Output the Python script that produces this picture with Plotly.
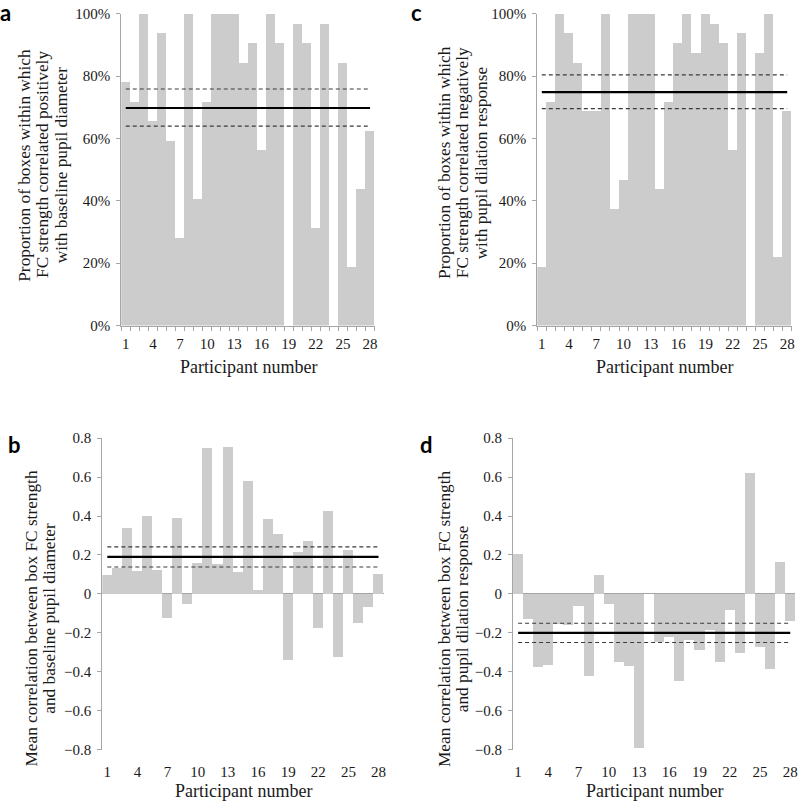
import plotly.graph_objects as go

participants = list(range(1, 29))
tick_participants = [1, 4, 7, 10, 13, 16, 19, 22, 25, 28]

# Panel a: proportion of boxes with positive FC ~ baseline pupil correlation (%)
a_values = [78.1, 71.9, 100, 65.6, 93.8, 59.4, 28.1, 100, 40.6, 71.9, 100, 100, 100, 84.4,
            90.6, 56.3, 100, 90.6, 0, 96.9, 90.6, 31.3, 96.9, 0, 84.4, 18.8, 43.8, 62.5]
a_mean = 69.8
a_ci_high = 75.9
a_ci_low = 64.0

# Panel c: proportion of boxes with negative FC ~ pupil dilation correlation (%)
c_values = [18.8, 71.9, 100, 93.8, 84.4, 68.8, 68.8, 100, 37.5, 46.9, 100, 100, 100, 43.8,
            71.9, 90.6, 100, 87.5, 100, 96.9, 90.6, 56.3, 93.8, 0, 87.5, 100, 21.9, 68.8]
c_mean = 74.9
c_ci_high = 80.4
c_ci_low = 69.6

# Panel b: mean correlation FC strength ~ baseline pupil diameter
b_values = [0.097, 0.134, 0.336, 0.118, 0.40, 0.123, -0.126, 0.39, -0.055, 0.156, 0.748, 0.153,
            0.754, 0.109, 0.581, 0.018, 0.385, 0.309, -0.34, 0.212, 0.272, -0.175, 0.427, -0.323,
            0.224, -0.151, -0.066, 0.103]
b_mean = 0.19
b_ci_high = 0.242
b_ci_low = 0.138

# Panel d: mean correlation FC strength ~ pupil dilation response
d_values = [0.205, -0.129, -0.375, -0.365, -0.155, -0.163, -0.062, -0.424, 0.097, -0.055, -0.353,
            -0.371, -0.793, 0, -0.25, -0.222, -0.449, -0.239, -0.292, -0.187, -0.353, -0.082,
            -0.304, 0.622, -0.276, -0.385, 0.161, -0.143]
d_mean = -0.2
d_ci_high = -0.151
d_ci_low = -0.25

pct_ticks = [0, 20, 40, 60, 80, 100]
pct_ticktext = ["0%", "20%", "40%", "60%", "80%", "100%"]
corr_ticks = [-0.8, -0.6, -0.4, -0.2, 0, 0.2, 0.4, 0.6, 0.8]
corr_ticktext = ["\u22120.8", "\u22120.6", "\u22120.4", "\u22120.2", "0", "0.2", "0.4", "0.6", "0.8"]

W, H = 800, 808
SERIF = "Liberation Serif"
TXT = "#1a1a1a"
BAR = "#cccccc"
AX = "#a6a6a6"


def px(x):
    return x / W


def py(y):
    return 1 - y / H


fig = go.Figure()

panels = [
    ("", a_values, a_mean, a_ci_high, a_ci_low),
    ("2", b_values, b_mean, b_ci_high, b_ci_low),
    ("3", c_values, c_mean, c_ci_high, c_ci_low),
    ("4", d_values, d_mean, d_ci_high, d_ci_low),
]

for suffix, vals, m, hi, lo in panels:
    xa, ya = "x" + suffix, "y" + suffix
    fig.add_trace(go.Bar(x=participants, y=vals, width=1, marker=dict(color=BAR, line=dict(width=0)),
                         xaxis=xa, yaxis=ya, showlegend=False))
    ends = [participants[0], participants[-1]]
    for v in (hi, lo):
        fig.add_trace(go.Scatter(x=ends, y=[v, v], mode="lines",
                                 line=dict(color="#3a3a3a", width=1.2, dash="4px,3px"),
                                 xaxis=xa, yaxis=ya, showlegend=False))
    fig.add_trace(go.Scatter(x=ends, y=[m, m], mode="lines", line=dict(color="#000000", width=2.2),
                             xaxis=xa, yaxis=ya, showlegend=False))

tickfont = dict(family=SERIF, size=15, color=TXT)

dom_a_x = [px(121.7), px(376)]
dom_c_x = [px(539.3), px(794.7)]
dom_top_y = [py(324), py(6)]
dom_b_x = [px(102.7), px(385)]
dom_d_x = [px(515), px(798.3)]
dom_bot_y = [py(756.5), py(438.9)]


def pct_x(dom, anchor):
    return dict(domain=dom, anchor=anchor, range=[0.5, 28.5], tickmode="array", tickvals=tick_participants,
                showline=True, linecolor=AX, linewidth=1, ticks="", showgrid=False, zeroline=False,
                tickfont=tickfont, ticklabelstandoff=4,
                minor=dict(tickmode="linear", tick0=0.5, dtick=1, ticks="outside", ticklen=4, tickcolor=AX,
                           showgrid=False))


def pct_y(dom, anchor):
    return dict(domain=dom, anchor=anchor, range=[0, 100], tickmode="array", tickvals=pct_ticks,
                ticktext=pct_ticktext,
                showline=True, linecolor=AX, linewidth=1, ticks="outside", ticklen=4, tickcolor=AX,
                showgrid=False, zeroline=False, tickfont=tickfont, ticklabelstandoff=3)


def corr_x(dom, anchor):
    return dict(domain=dom, anchor=anchor, range=[0.5, 28.5], tickmode="array", tickvals=tick_participants,
                showline=False, ticks="", showgrid=False, zeroline=False, tickfont=tickfont, ticklabelstandoff=11)


def corr_y(dom, anchor):
    return dict(domain=dom, anchor=anchor, range=[-0.8, 0.8], tickmode="array", tickvals=corr_ticks,
                ticktext=corr_ticktext, showline=True, linecolor=AX, linewidth=1, ticks="outside", ticklen=4,
                tickcolor=AX, showgrid=False, zeroline=True, zerolinecolor=AX, zerolinewidth=1,
                tickfont=tickfont, ticklabelstandoff=3)


fig.update_layout(
    width=W, height=H, autosize=False,
    margin=dict(l=0, r=0, t=0, b=0),
    paper_bgcolor="white", plot_bgcolor="white",
    bargap=0, showlegend=False,
    font=dict(family=SERIF, color=TXT),
    xaxis=pct_x(dom_a_x, "y"), yaxis=pct_y(dom_top_y, "x"),
    xaxis2=corr_x(dom_b_x, "y2"), yaxis2=corr_y(dom_bot_y, "x2"),
    xaxis3=pct_x(dom_c_x, "y3"), yaxis3=pct_y(dom_top_y, "x3"),
    xaxis4=corr_x(dom_d_x, "y4"), yaxis4=corr_y(dom_bot_y, "x4"),
)

ann = []
letter_font = dict(family="Lato", size=22, color="#000000")
for letter, x, y in [("a", 6, 5), ("c", 418, 5), ("b", 15, 445), ("d", 428, 445)]:
    ann.append(dict(text="<b>%s</b>" % letter, x=px(x), y=py(y), xref="paper", yref="paper",
                    xanchor="center", yanchor="middle", showarrow=False, font=letter_font))

ytitle_font = dict(family=SERIF, size=17.3, color=TXT)
ytitles = [
    (["Proportion of boxes within which", "FC strength correlated positively", "with baseline pupil diameter"],
     [25, 43.3, 61.7], 160),
    (["Proportion of boxes within which", "FC strength correlated negatively", "with pupil dilation response"],
     [446.7, 465, 483.3], 158),
    (["Mean correlation between box FC strength", "and baseline pupil diameter"], [32, 50.3], 623),
    (["Mean correlation between box FC strength", "and pupil dilation response"], [446, 464.3], 623),
]
for lines, xs, yc in ytitles:
    for line, x in zip(lines, xs):
        ann.append(dict(text=line, x=px(x), y=py(yc), xref="paper", yref="paper", textangle=-90,
                        xanchor="center", yanchor="middle", showarrow=False, font=ytitle_font))

xtitle_font = dict(family=SERIF, size=18, color=TXT)
for x, y in [(249, 366.7), (667, 366.7), (244, 799), (657, 799)]:
    ann.append(dict(text="Participant number", x=px(x), y=py(y), xref="paper", yref="paper",
                    xanchor="center", yanchor="middle", showarrow=False, font=xtitle_font))

fig.update_layout(annotations=ann)
fig.write_html("out.html", config={"displayModeBar": False},
               post_script="document.body.style.margin='0';document.body.style.overflow='hidden';")
